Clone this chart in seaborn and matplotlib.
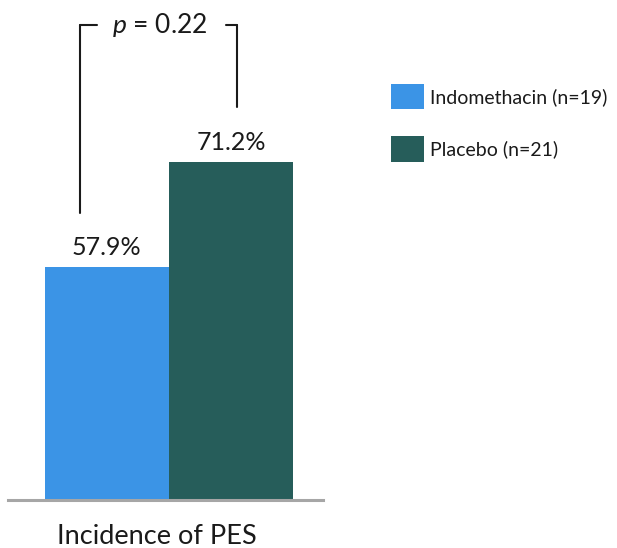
import matplotlib
matplotlib.use("Agg")
import matplotlib.pyplot as plt
from matplotlib.patches import Patch
import pandas as pd
import seaborn as sns

# Data
groups = ["Indomethacin (n=19)", "Placebo (n=21)"]
incidence = [57.9, 71.2]
measure = "Incidence of PES"
p_value = 0.22
colors = ["#3b94e6", "#265d5a"]

df = pd.DataFrame({"measure": [measure] * len(groups),
                   "group": groups,
                   "incidence": incidence})

sns.set_theme(style="white")
plt.rcParams["font.family"] = ["Lato", "DejaVu Sans"]
plt.rcParams["mathtext.fontset"] = "custom"
plt.rcParams["mathtext.it"] = "Lato:italic"
plt.rcParams["mathtext.rm"] = "Lato"

W, H = 617, 548
fig = plt.figure(figsize=(W / 100, H / 100), dpi=100)
ax = fig.add_axes([8 / W, (H - 500) / H, 315 / W, 500 / H])

sns.barplot(data=df, x="measure", y="incidence", hue="group",
            palette=colors, width=0.79, saturation=1, linewidth=0,
            legend=False, ax=ax)

ax.set_ylim(28.4, 91.7)
ax.set_xlim(-0.511, 0.489)

# Value labels above bars
for patch, val in zip(ax.patches, incidence):
    cx = patch.get_x() + patch.get_width() / 2
    ax.annotate(f"{val:.1f}%", xy=(cx, val), xytext=(0, 8.6),
                textcoords="offset points", ha="center", va="baseline",
                fontsize=18, color="#1a1a1a")

# Significance bracket
tc = "#1a1a1a"
y_top = 88.5
ax.plot([-0.283, -0.283], [64.7, y_top], color=tc, lw=1.5, clip_on=False)
ax.plot([-0.283, -0.229], [y_top, y_top], color=tc, lw=1.5, clip_on=False)
ax.plot([0.181, 0.216], [y_top, y_top], color=tc, lw=1.5, clip_on=False)
ax.plot([0.216, 0.216], [78.1, y_top], color=tc, lw=1.5, clip_on=False)
ax.text(-0.029, y_top, f"$p$ = {p_value:.2f}", ha="center", va="center",
        fontsize=19, color=tc)

# Axes styling
sns.despine(ax=ax, left=True)
ax.spines["bottom"].set_color("#a6a6a6")
ax.spines["bottom"].set_linewidth(2.2)
ax.set_yticks([])
ax.set_xticks([])
ax.set_ylabel("")
ax.set_xlabel(measure, fontsize=19.5, color=tc)
ax.xaxis.set_label_coords(0.473, -0.049)

# Legend
handles = [Patch(facecolor=c, edgecolor="none") for c in colors]
fig.legend(handles, groups, loc="upper left",
           bbox_to_anchor=(391 / W, 1 - 84 / H), frameon=False,
           fontsize=14, handlelength=1.70, handleheight=1.63,
           handletextpad=0.31, labelspacing=1.38, borderpad=0,
           borderaxespad=0, labelcolor=tc)

fig.savefig("out.png", dpi=100)
